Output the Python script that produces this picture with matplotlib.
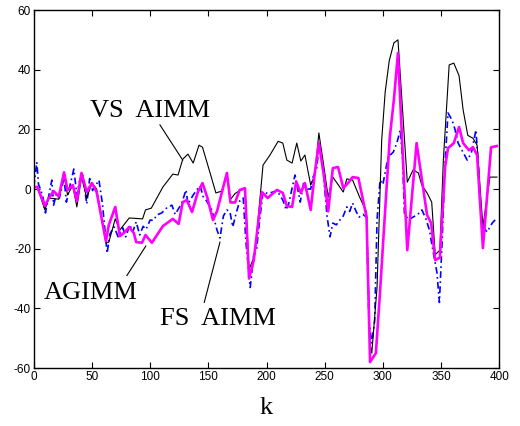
import matplotlib
matplotlib.use("Agg")
import matplotlib.pyplot as plt

# ---------------------------------------------------------------------------
# Data (k vs. error)
# ---------------------------------------------------------------------------
vs_k = [0, 3, 9.5, 13, 21.5, 26, 29, 33.5, 37, 41, 45.5, 50, 54, 62, 64.5, 70, 74, 82,
        93.5, 96, 101, 111, 119.5, 124, 128, 132.5, 137, 142, 145, 151.5, 156.5, 161.5,
        166, 169, 173, 177, 181.5, 185, 190, 197, 203, 210, 214, 217.5, 222, 226, 229.5,
        233, 238, 241.5, 245, 249.5, 253, 257, 266, 269, 274, 280, 286, 289, 290.5, 295,
        299, 302, 305.5, 309.5, 313, 321, 326, 330.5, 333.5, 338, 342, 345, 349, 352, 357,
        361, 365.5, 369, 373, 377.5, 381, 386, 392, 398]
vs_v = [0.7, 0.7, -7, -3, -3.4, 5.4, -2, 1.3, -6, 4, -3, 2, 0, -18, -17.8, -10, -13.7, -9.7,
        -10, -7, -6.4, 0.7, 5, 4.7, 10, 11.7, 8.7, 14.7, 14, 5.4, -1.3, -0.7,
        5.4, -3.5, -1.5, -0.5, 0, -27, -22, 8, 11.4, 16, 15.4, 9.7, 8.7, 15.4, 9.4,
        11.4, 1.3, 4.7, 18.8, 7, -2.7, 4, -1, 3.4, 3, -2.7, -7.7, -52, -55, -33,
        16.4, 32.5, 43, 49, 50, 2.3, 6.4, 5.4, 1.3, -1.3, -4.4, -22, -20.5, 9.7, 41.6,
        42.2, 38, 26.5, 18, 17, 14.7, -12.7, 4, 4]

ag_k = [0, 3, 9.5, 13, 17, 21.5, 26, 29, 33.5, 37, 41, 45.5, 50, 54, 62, 64.5, 70, 74, 78,
        82, 86, 88, 93, 96, 101.5, 111, 119.5, 124.5, 128, 131.5, 136, 141, 145, 149, 154,
        157.5, 161.5, 166, 169, 173, 177, 181.5, 185, 189, 196, 201, 209, 214, 217.5, 222,
        225.5, 229.5, 233, 238, 241.5, 245, 249.5, 253, 257, 261.5, 266, 270, 274, 279, 286,
        289, 294, 297.5, 302, 306, 309.5, 313, 321, 329, 334.5, 338, 341.5, 345, 349,
        353.5, 356, 361, 365.5, 369, 374, 377.5, 381, 386, 393, 398]
ag_v = [0.7, 0.7, -5.6, -3, -0.7, -2.5, 5.6, -0.3, 1.3, -4, 5.4, -1, 2, -1, -17.5, -12, -6,
        -15.8, -14.5, -12.7, -14.8, -17.8, -18, -15.4, -18, -12.4, -10, -11.7, -4.4, -3.7,
        -7.7, -1, 2, -2.7, -10.4, -7.4, -1.3, 5.4, -4.5, -4.5, -0.3, 0.3, -30, -24, -1, -3,
        -0.3, -1.3, -5.7, -6, 2.5, -1.3, 2, -7, 5.4, 15.5, 4, -7.5, 7, 7.4, 0.3, 2, 4, 3.7,
        -9.4, -58, -55, -35, -7, 17.4, 30, 45.6, -20.5, 15.4, 0.7, -8.7, -11.4, -23.8, -23,
        7.4, 13.7, 15.4, 20.8, 15.4, 13, 14, 11.4, -19.8, 14, 14.4]

fs_k = [0, 2.6, 4, 6, 8, 10, 12, 15.5, 17, 19.5, 22, 26, 28, 31, 34.4, 37, 39.5, 42, 45.5,
        48, 50.5, 56, 59, 63, 65.5, 69, 72.5, 76.5, 79, 82.6, 85, 88, 91, 94, 96.5, 100,
        103, 105.6, 110, 114, 118.7, 121.5, 124.5, 127, 130.8, 132.5, 137, 140, 143, 145.5,
        148.5, 153, 157.4, 160, 163, 166, 168.6, 171, 174, 177, 180, 182.4, 186, 189, 191.5,
        194.4, 197, 201, 205.6, 209, 214, 217, 219, 224.5, 229, 232, 235, 238, 240, 243,
        244.5, 246, 249, 252, 254.6, 257, 260, 263, 266, 269, 271.5, 274, 277, 279.6, 283,
        286, 288, 290.5, 293, 295, 297.6, 300, 304.5, 309, 312, 315, 317, 318.5, 322, 326,
        330, 333.6, 337, 340, 343, 346.5, 348.6, 351, 353.6, 356, 359.6, 362, 364.7, 368,
        372.5, 376, 380, 382, 383.6, 386, 389.6, 394, 398]
fs_v = [0.7, 9, 1.6, -0.3, -3, -8, -4, 3, -5.4, -1.5, -3, 3.7, -4.4, 1, 6.7, -2, 3, 5, -5,
        3.5, -0.5, 3, -5, -21.5, -15, -12.7, -16, -13, -16, -12, -14.4, -11, -15.4, -12.5,
        -13.5, -10.4, -10.5, -8.7, -8, -6.4, -5.4, -8.5, -6.5, -5, -0.3, -5, -2, -0.3, 1,
        -2.5, -4, -7, -13.7, -16.4, -9, -7, -7.7, -12.7, -8, -4, -3, -18, -33, -22, -20,
        -9.4, -1, -1.5, -1, -0.5, -3.7, -7, -5, 4.7, -4.4, 2.3, 0, 0, 4, 6.4,
        12, 14, 5, -9, -16, -11.4, -12, -10.4, -9, -6, -7.5, -4.7, -7.5, -9.4, -8.5,
        -9.5, -44, -51.6, -44, -10.4, 3, 1.5, 10.7, 12.4, 15.4, 19.8, 9.7, -8, -10.4, -9.4,
        -8.5, -7, -10, -13.7, -20.5, -28, -38, -17, 9.7, 25.5, 23, 20, 15.4, 13,
        9.7, 12, 19.8, 8.7, -6, -12.7, -14.4, -11.4, -9.7]

# ---------------------------------------------------------------------------
# Figure
# ---------------------------------------------------------------------------
plt.rcParams["axes.unicode_minus"] = False
plt.rcParams["font.family"] = ["Liberation Sans", "DejaVu Sans"]
serif = ["Liberation Serif", "DejaVu Serif"]

fig = plt.figure(figsize=(5.2, 4.26), dpi=100)
ax = fig.add_axes([0.065, 0.136, 0.895, 0.8405])

ax.plot(fs_k, fs_v, color="#0000ff", lw=1.2, dashes=(4, 2, 1, 2))
ax.plot(vs_k, vs_v, color="black", lw=0.8)
ax.plot(ag_k, ag_v, color="#ff00ff", lw=1.9)

ax.set_xlim(0, 400)
ax.set_ylim(-60, 60)
ax.set_xticks(range(0, 401, 50))
ax.set_yticks(range(-60, 61, 20))
ax.tick_params(direction="in", top=True, right=True, labelsize=8.5, length=4, pad=2)
for s in ax.spines.values():
    s.set_linewidth(1.0)

ax.set_xlabel("k", family=serif, fontsize=19, labelpad=10)

# labels with leader lines
ax.text(100, 26, "VS  AIMM", family=serif, fontsize=19, ha="center", va="center")
ax.plot([108.4, 128], [21.5, 9.7], color="black", lw=0.8)

ax.text(49, -35, "AGIMM", family=serif, fontsize=19, ha="center", va="center")
ax.plot([80, 96.3], [-29, -19.1], color="black", lw=0.8)

ax.text(158, -43.4, "FS  AIMM", family=serif, fontsize=19, ha="center", va="center")
ax.plot([146.5, 160], [-38, -17.8], color="black", lw=0.8)

fig.savefig("out.png", dpi=100)
